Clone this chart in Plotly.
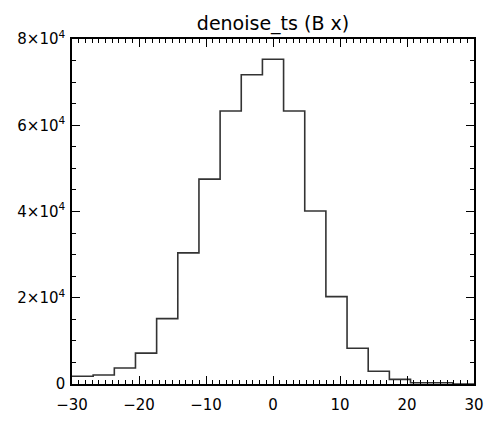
import plotly.graph_objects as go

# ---- data ----
bin_start = -30.0
bin_width = 60.0 / 19
counts = [1800, 2100, 3700, 7150, 15150, 30400, 47500, 63300, 71700, 75300,
          63300, 40100, 20270, 8300, 2970, 1070, 300, 300, 0]
y_tickvals = [0, 20000, 40000, 60000, 80000]
y_ticktext = ["0", "2×10<sup>4</sup>", "4×10<sup>4</sup>", "6×10<sup>4</sup>", "8×10<sup>4</sup>"]
x_tickvals = [-30, -20, -10, 0, 10, 20, 30]
x_ticktext = ["−30", "−20", "−10", "0", "10", "20", "30"]
title_text = "denoise_ts (B x)"

edges = [bin_start + i * bin_width for i in range(len(counts) + 1)]
xs = edges
ys = counts + [counts[-1]]

fig = go.Figure()
fig.add_trace(go.Scatter(x=xs, y=ys, mode="lines", line=dict(shape="hv", color="#333333", width=1.6),
                         showlegend=False, hoverinfo="skip"))

axis_common = dict(showline=True, linecolor="black", linewidth=1.6, mirror="ticks",
                   ticks="inside", tickcolor="black", tickwidth=1.2, ticklen=8,
                   showgrid=False, zeroline=False)

fig.update_xaxes(range=[-30, 30], tickvals=x_tickvals, ticktext=x_ticktext,
                 tickfont=dict(family="DejaVu Sans", size=15, color="black"),
                 ticklabelstandoff=6,
                 minor=dict(ticks="inside", ticklen=4, dtick=1, tickcolor="black", tickwidth=1.2, showgrid=False),
                 **axis_common)
fig.update_yaxes(range=[0, 80000], tickvals=y_tickvals, ticktext=y_ticktext,
                 tickfont=dict(family="DejaVu Sans", size=15, color="black"),
                 ticklabelstandoff=2,
                 minor=dict(ticks="inside", ticklen=4, dtick=5000, tickcolor="black", tickwidth=1.2, showgrid=False),
                 **axis_common)

fig.update_layout(
    width=492, height=422,
    margin=dict(l=72, r=8, t=39, b=34),
    paper_bgcolor="white", plot_bgcolor="white",
    title=dict(text=title_text, x=0.5, xref="paper", xanchor="center",
               y=1 - 23 / 422, yref="container", yanchor="middle",
               font=dict(family="DejaVu Sans", size=19, color="black")),
)

fig.write_html("out.html")
